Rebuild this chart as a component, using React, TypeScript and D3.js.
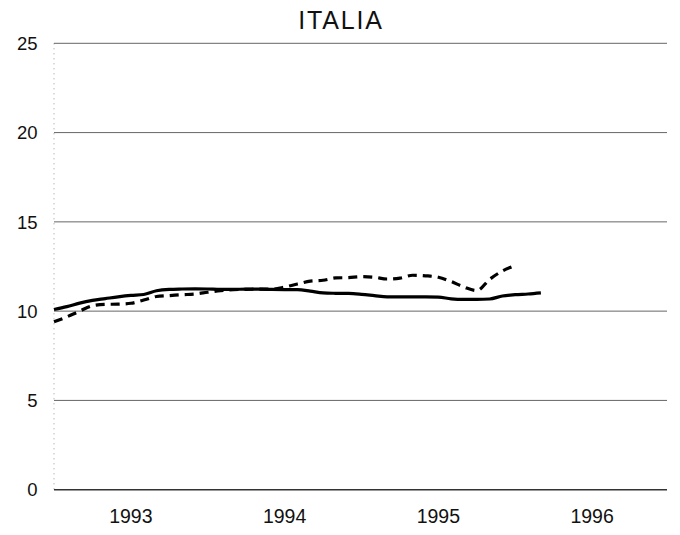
import React from "react";
import * as d3 from "d3";

const title = "ITALIA";
const yTicks = [0, 5, 10, 15, 20, 25];
const yearLabels = [1993, 1994, 1995, 1996];

// monthly values starting January 1993
const solidSeries = [
  10.09, 10.25, 10.45, 10.6, 10.7, 10.8, 10.88, 10.93, 11.14, 11.22,
  11.24, 11.25, 11.24, 11.22, 11.22, 11.23, 11.23, 11.22, 11.21, 11.2,
  11.12, 11.02, 11.0, 10.99, 10.94, 10.87, 10.8, 10.8, 10.8, 10.8,
  10.79, 10.69, 10.66, 10.66, 10.68, 10.85, 10.92, 10.96, 11.02,
];
const dashedSeries = [
  9.4, 9.68, 10.0, 10.3, 10.38, 10.39, 10.44, 10.62, 10.82, 10.87,
  10.92, 10.96, 11.06, 11.15, 11.2, 11.22, 11.23, 11.23, 11.35, 11.52,
  11.68, 11.73, 11.86, 11.88, 11.93, 11.9, 11.8, 11.85, 12.01, 11.98,
  11.9, 11.66, 11.35, 11.15, 11.78, 12.25, 12.55,
];

const W = 680;
const H = 535;
const left = 54;
const right = 667;
const top = 43.3;
const bottom = 489.7;

export default function App() {
  const x = d3.scaleLinear().domain([1993, 1997]).range([left, right + 2]);
  const y = d3.scaleLinear().domain([0, 25]).range([bottom, top]);
  const monthX = (i: number) => x(1993 + i / 12);

  const line = d3
    .line<number>()
    .x((_, i) => monthX(i))
    .y((d) => y(d))
    .curve(d3.curveMonotoneX);

  return (
    <svg
      width={W}
      height={H}
      style={{ position: "absolute", left: 0, top: 0, background: "#fff" }}
      fontFamily="'Liberation Sans', Arial, sans-serif"
    >
      <rect x={0} y={0} width={W} height={H} fill="#fff" />
      <text
        x={341}
        y={29}
        textAnchor="middle"
        fontSize={25}
        letterSpacing={1.8}
        fill="#111"
      >
        {title}
      </text>
      {/* left axis (faint) */}
      <line
        x1={left}
        x2={left}
        y1={top}
        y2={bottom}
        stroke="#999"
        strokeWidth={1}
        strokeDasharray="1 4"
      />
      {yTicks.map((t) => (
        <g key={t}>
          <line
            x1={left}
            x2={right}
            y1={y(t)}
            y2={y(t)}
            stroke={t === 0 ? "#333" : "#666"}
            strokeWidth={t === 0 ? 1.5 : 1}
          />
          <text
            x={37.5}
            y={y(t)}
            dy="0.36em"
            textAnchor="end"
            fontSize={18.5}
            fill="#111"
          >
            {t}
          </text>
        </g>
      ))}
      {yearLabels.map((yr) => (
        <text
          key={yr}
          x={x(yr + 0.5)}
          y={523}
          textAnchor="middle"
          fontSize={19.5}
          fill="#111"
        >
          {yr}
        </text>
      ))}
      <path
        d={line(solidSeries) || ""}
        fill="none"
        stroke="#000"
        strokeWidth={3.2}
        strokeLinejoin="round"
      />
      <path
        d={line(dashedSeries) || ""}
        fill="none"
        stroke="#000"
        strokeWidth={3.2}
        strokeDasharray="9 6"
      />
    </svg>
  );
}
